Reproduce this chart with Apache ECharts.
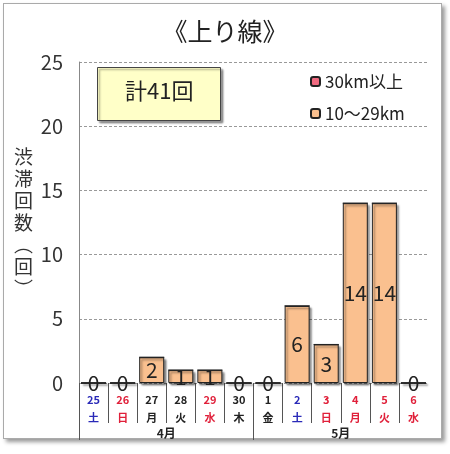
<!DOCTYPE html>
<html><head><meta charset="utf-8">
<script src="https://cdn.jsdelivr.net/npm/echarts@6/dist/echarts.min.js"></script>
<style>
html,body{margin:0;padding:0;background:#fff;}
#frame{position:absolute;left:3px;top:3px;width:437px;height:434px;border:1px solid #aaa;box-shadow:3px 3px 4px #999;background:#fff;}
#c{position:absolute;left:0;top:0;width:450px;height:454px;}
</style></head>
<body><div id="frame"></div><div id="c"></div>
<script>
const days = ['25','26','27','28','29','30','1','2','3','4','5','6'];
const weekdays = ['土','日','月','火','水','木','金','土','日','月','火','水'];
const holidays = ['29','3','4','5','6'];
const months = ['4月','5月'];
const monthSpan = [6,6];
const over30 = [0,0,0,0,0,0,0,0,0,0,0,0];
const km10to29 = [0,0,2,1,1,0,0,6,3,14,14,0];
const yTicks = [0,5,10,15,20,25];

const total = km10to29.reduce((a,b)=>a+b,0) + over30.reduce((a,b)=>a+b,0);
const FONT = '"Noto Sans CJK JP","Liberation Sans",sans-serif';

// boundary helpers (category edges) for separator ticks
const dayEdges = days.map((d,i)=>String(i)).concat([String(days.length)]);
const monthEdgeIdx = [0];
monthSpan.forEach(s=>monthEdgeIdx.push(monthEdgeIdx[monthEdgeIdx.length-1]+s));

function cls(i){
  if (weekdays[i]==='土') return 'b';
  if (weekdays[i]==='日' || holidays.includes(days[i])) return 'r';
  return 'k';
}

const chart = echarts.init(document.getElementById('c'), null, {renderer:'canvas'});
chart.setOption({
  backgroundColor:'transparent',
  textStyle:{fontFamily:FONT},
  animation:false,
  title:{text:'《上り線》', left:'center', top:14,
    textStyle:{fontSize:25, fontWeight:'normal', color:'#222', fontFamily:FONT}},
  legend:{orient:'vertical', left:305, top:68, itemWidth:9, itemHeight:9, itemGap:15,
    data:['30km以上','10～29km'],
    textStyle:{fontSize:17, color:'#222', fontFamily:FONT}},
  grid:{left:79, right:22, top:62, bottom:71, containLabel:false},
  xAxis:[{
    type:'category', data:days, position:'bottom',
    axisLine:{show:false},
    axisTick:{show:false},
    axisLabel:{interval:0, margin:8,
      formatter:function(v, i){ const c = cls(i); return '{'+c+'|'+v+'}\n{'+c+'|'+weekdays[i]+'}'; },
      rich:{
        b:{color:'#2a2ab8', fontSize:11, fontWeight:'bold', lineHeight:18, fontFamily:FONT},
        r:{color:'#e0203a', fontSize:11, fontWeight:'bold', lineHeight:18, fontFamily:FONT},
        k:{color:'#222', fontSize:11, fontWeight:'bold', lineHeight:18, fontFamily:FONT}
      }}
  },{
    type:'category', data:months, position:'bottom', offset:58,
    axisLine:{show:false},
    axisTick:{show:false},
    axisLabel:{inside:true, margin:2, fontSize:12, fontWeight:'bold', color:'#222'}
  },{
    // day separators (short), all edges except the last
    type:'category', data:dayEdges, boundaryGap:false, position:'bottom',
    axisLine:{show:false},
    axisLabel:{show:false},
    axisTick:{show:true, length:40, lineStyle:{color:'#555'},
      interval:function(i){ return i < days.length; }}
  },{
    // month separators (long), all edges except the last
    type:'category', data:dayEdges, boundaryGap:false, position:'bottom',
    axisLine:{show:false},
    axisLabel:{show:false},
    axisTick:{show:true, length:57, lineStyle:{color:'#555'},
      interval:function(i){ return monthEdgeIdx.slice(0,-1).includes(i); }}
  }],
  yAxis:{
    type:'value', min:0, max:25, interval:5,
    name:'渋\n滞\n回\n数\n︵\n回\n︶', nameLocation:'middle', nameRotate:0, nameGap:46,
    nameTextStyle:{fontSize:19, color:'#333', lineHeight:22, padding:[0,0,18,0], fontFamily:FONT},
    axisLine:{show:true, lineStyle:{color:'#888'}},
    axisTick:{show:false},
    axisLabel:{fontSize:20, color:'#333', margin:16,
      formatter:function(v){ return yTicks.includes(v) ? String(v) : ''; }},
    splitLine:{show:true, lineStyle:{color:'#999', type:[3,2]}}
  },
  series:[{
    name:'10～29km', type:'bar', stack:'s', data:km10to29, barCategoryGap:'14%',
    itemStyle:{color:'#fac08f', borderColor:'#222', borderWidth:1,
      shadowColor:'rgba(0,0,0,0.45)', shadowBlur:2, shadowOffsetX:2, shadowOffsetY:2},
    label:{show:true, position:'inside', fontSize:21, color:'#222', fontFamily:FONT}
  },{
    name:'30km以上', type:'bar', stack:'s', data:over30, barCategoryGap:'14%',
    itemStyle:{color:'#f06a80', borderColor:'#222', borderWidth:1},
    label:{show:false}
  }],
  graphic:[{
    type:'rect', left:97, top:67, shape:{width:123, height:53},
    style:{fill:'#ffffc8', stroke:'#444', lineWidth:1,
      shadowColor:'rgba(0,0,0,0.4)', shadowBlur:2, shadowOffsetX:2, shadowOffsetY:2}
  },{
    type:'text', left:125, top:80,
    style:{text:'計'+total+'回', fontSize:22, fill:'#222', fontFamily:FONT}
  }]
});
</script></body></html>
